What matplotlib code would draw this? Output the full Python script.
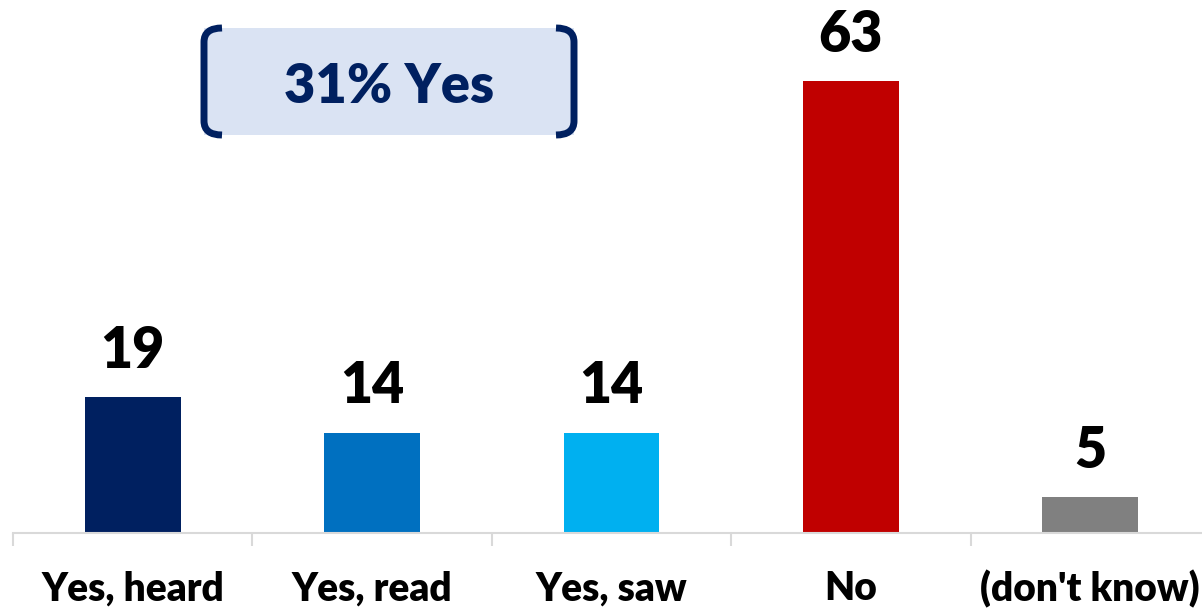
import matplotlib
matplotlib.use("Agg")
import matplotlib.pyplot as plt
from matplotlib.path import Path
from matplotlib.patches import PathPatch, Rectangle

categories = ["Yes, heard", "Yes, read", "Yes, saw", "No", "(don't know)"]
values = [19, 14, 14, 63, 5]
colors = ["#002060", "#0070C0", "#00B0F0", "#C00000", "#808080"]
summary_text = "31% Yes"

W, H = 1202, 609
fig = plt.figure(figsize=(W / 100, H / 100), dpi=100)
plt.rcParams['font.family'] = ['Lato', 'DejaVu Sans']

cat_w = 239.4
left = 13
bottom_px = 533
ax = fig.add_axes([left / W, (H - bottom_px) / H, 5 * cat_w / W, bottom_px / H])
px_per_unit = 7.17
ax.set_ylim(0, bottom_px / px_per_unit)
ax.set_xlim(-0.5, len(categories) - 0.5)

x = range(len(categories))
ax.bar(x, values, width=0.4, color=colors)
for xi, v in zip(x, values):
    ax.annotate(str(v), (xi, v), xytext=(0, 21), textcoords="offset points",
                ha="center", va="baseline", fontsize=40, fontweight="heavy", color="black")

for s in ["top", "right", "left"]:
    ax.spines[s].set_visible(False)
ax.spines["bottom"].set_color("#D9D9D9")
ax.spines["bottom"].set_linewidth(1.5)
ax.set_yticks([])
ax.set_xticks([i - 0.5 for i in range(len(categories) + 1)])
ax.set_xticklabels([])
ax.tick_params(axis="x", length=9, width=1.5, color="#D9D9D9")
ax.set_xticks(list(x), minor=True)
ax.set_xticklabels(categories, minor=True, fontsize=28, fontweight="heavy")
ax.tick_params(axis="x", which="minor", length=0, pad=27)

# overlay for the summary box
ov = fig.add_axes([0, 0, 1, 1], zorder=5)
ov.set_xlim(0, W)
ov.set_ylim(H, 0)
ov.axis("off")
ov.patch.set_alpha(0)
x0, x1, y0, y1 = 204, 574, 28, 135
ov.add_patch(Rectangle((x0, y0), x1 - x0, y1 - y0, facecolor="#DAE3F3", edgecolor="none"))
r = 14
lb = Path([(x0 + r + 4, y0), (x0, y0), (x0, y0 + r), (x0, y1 - r), (x0, y1), (x0 + r + 4, y1)],
          [Path.MOVETO, Path.CURVE3, Path.CURVE3, Path.LINETO, Path.CURVE3, Path.CURVE3])
rb = Path([(x1 - r - 4, y0), (x1, y0), (x1, y0 + r), (x1, y1 - r), (x1, y1), (x1 - r - 4, y1)],
          [Path.MOVETO, Path.CURVE3, Path.CURVE3, Path.LINETO, Path.CURVE3, Path.CURVE3])
for p in (lb, rb):
    ov.add_patch(PathPatch(p, facecolor="none", edgecolor="#002060", linewidth=5, capstyle="butt"))
ov.text((x0 + x1) / 2, 103, summary_text, ha="center", va="baseline",
        fontsize=39, fontweight="heavy", color="#002060")

fig.savefig("out.png", dpi=100)
